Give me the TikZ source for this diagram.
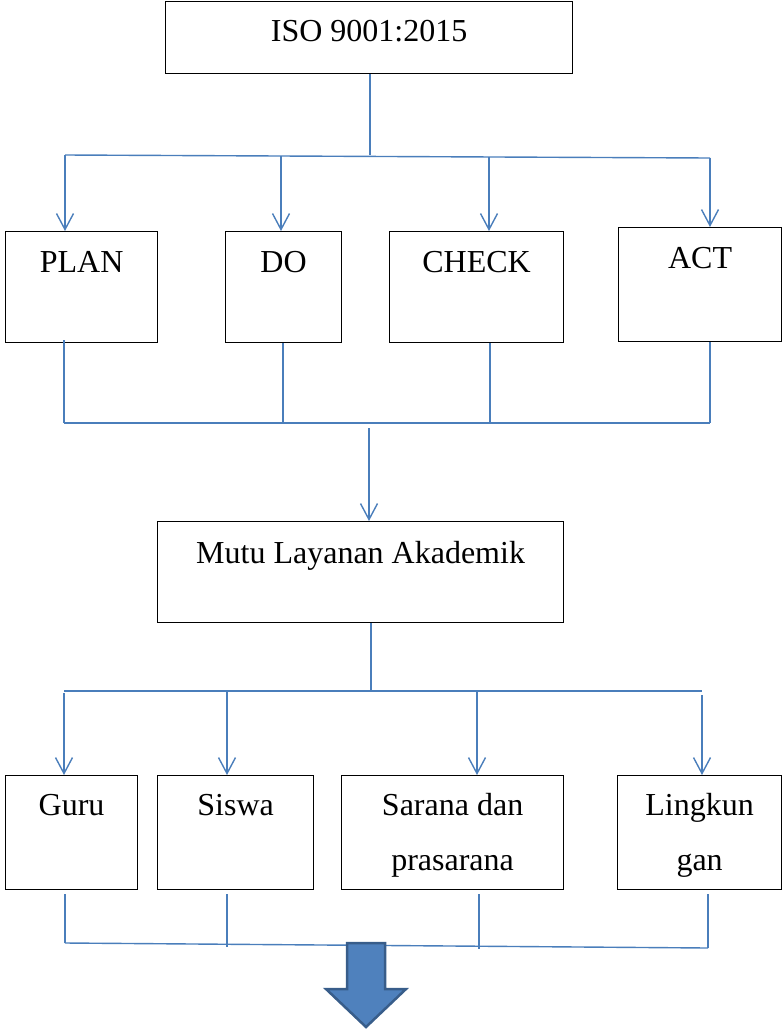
\documentclass[tikz,border=0pt]{standalone}
\usepackage{fontspec}
\setmainfont{Liberation Serif}
\usetikzlibrary{arrows.meta}
\definecolor{connc}{HTML}{4A7EBB}
\definecolor{blkfill}{HTML}{4F81BD}
\definecolor{blkline}{HTML}{385D8A}
\begin{document}
\begin{tikzpicture}[x=1pt,y=-1pt,
  box/.style={draw=black,line width=1.2pt,inner sep=0pt,anchor=north west},
  txt/.style={anchor=base,inner sep=0pt,font=\fontsize{32}{38}\selectfont},
  link/.style={draw=connc,line width=1.4pt},
  arr/.style={link,-{Straight Barb[length=16pt,width=17pt]}}]
\useasboundingbox (0,0) rectangle (784,1031);
% boxes
\node[box,minimum width=407pt,minimum height=72pt] (iso) at (165,1) {};
\node[box,minimum width=152pt,minimum height=111pt] (plan) at (5,231) {};
\node[box,minimum width=116pt,minimum height=111pt] (do) at (225,231) {};
\node[box,minimum width=174pt,minimum height=111pt] (check) at (389,231) {};
\node[box,minimum width=163pt,minimum height=114pt] (act) at (618,227) {};
\node[box,minimum width=406pt,minimum height=101pt] (mutu) at (157,521) {};
\node[box,minimum width=132pt,minimum height=114pt] (guru) at (5,775) {};
\node[box,minimum width=156pt,minimum height=114pt] (siswa) at (157,775) {};
\node[box,minimum width=222pt,minimum height=114pt] (sarana) at (341,775) {};
\node[box,minimum width=164pt,minimum height=114pt] (ling) at (617,775) {};
% texts
\node[txt] (isot) at (iso.center |- 0,41) {ISO 9001:2015};
\node[txt] (plant) at (plan.center |- 0,272) {PLAN};
\node[txt] (dot) at (do.center |- 0,272) {DO};
\node[txt] (checkt) at (check.center |- 0,272) {CHECK};
\node[txt] (actt) at (act.center |- 0,268) {ACT};
\node[txt] (mutut) at (mutu.center |- 0,563) {Mutu Layanan Akademik};
\node[txt] (gurut) at (guru.center |- 0,815) {Guru};
\node[txt] (siswat) at (siswa.center |- 0,815) {Siswa};
\node[txt] (saranat1) at (sarana.center |- 0,815) {Sarana dan};
\node[txt] (saranat2) at (sarana.center |- 0,870) {prasarana};
\node[txt] (lingt1) at (ling.center |- 0,815) {Lingkun};
\node[txt] (lingt2) at (ling.center |- 0,870) {gan};
% first bus
\coordinate (j1) at (370,155);
\coordinate (t1) at (65,155);
\coordinate (t2) at (281,156);
\coordinate (t3) at (489,157);
\coordinate (t4) at (710,158);
\draw[link] (iso.south -| j1) -- (j1);
\draw[link] (t1) -- (t4);
\draw[arr] (t1) -- (t1 |- plan.north);
\draw[arr] (t2) -- (t2 |- do.north);
\draw[arr] (t3) -- (t3 |- check.north);
\draw[arr] (t4) -- (t4 |- act.north);
% second bus
\coordinate (c1) at (64,423);
\coordinate (c2) at (283,423);
\coordinate (c3) at (490,423);
\coordinate (c4) at (710,423);
\draw[link] ([yshift=3pt]plan.south -| c1) -- (c1);
\draw[link] (do.south -| c2) -- (c2);
\draw[link] (check.south -| c3) -- (c3);
\draw[link] (act.south -| c4) -- (c4);
\draw[link] (c1) -- (c4);
\coordinate (j2) at (369,428);
\draw[arr] (j2) -- (j2 |- mutu.north);
% third bus
\coordinate (j3) at (371,691);
\coordinate (u1) at (64,691);
\coordinate (u2) at (227,691);
\coordinate (u3) at (477,691);
\coordinate (u4) at (702,691);
\draw[link] (mutu.south -| j3) -- (j3);
\draw[link] (u1) -- (u4);
\draw[arr] ([yshift=-2pt]u1) -- (u1 |- guru.north);
\draw[arr] (u2) -- (u2 |- siswa.north);
\draw[arr] (u3) -- (u3 |- sarana.north);
\draw[arr] ([yshift=-4pt]u4) -- (u4 |- ling.north);
% fourth bus
\coordinate (d1) at (65,943);
\coordinate (d2) at (227,947);
\coordinate (d3) at (479,949);
\coordinate (d4) at (708,948);
\draw[link] ([yshift=-4pt]guru.south -| d1) -- (d1);
\draw[link] ([yshift=-4pt]siswa.south -| d2) -- (d2);
\draw[link] ([yshift=-4pt]sarana.south -| d3) -- (d3);
\draw[link] ([yshift=-4pt]ling.south -| d4) -- (d4);
\draw[link] (d1) -- (d4);
% block arrow
\draw[fill=blkfill,draw=blkline,line width=2.5pt,line join=miter]
  (347,943) -- (385,943) -- (385,989) -- (406,989) -- (366,1027) -- (326,989) -- (347,989) -- cycle;
\end{tikzpicture}
\end{document}
